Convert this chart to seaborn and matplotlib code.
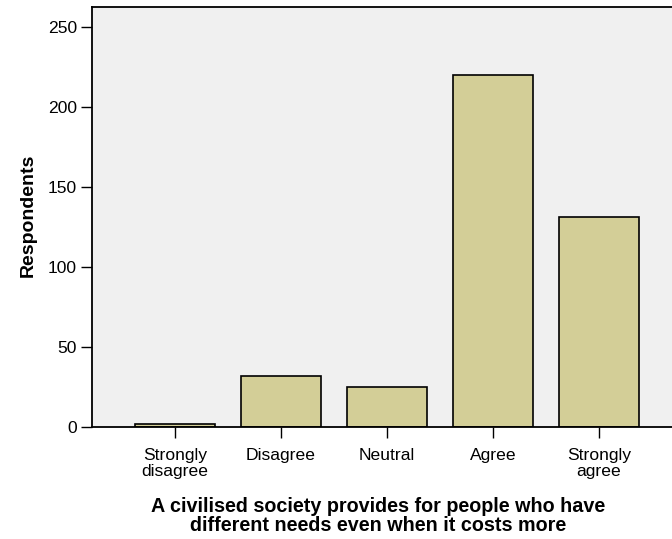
import matplotlib
matplotlib.use("Agg")
import matplotlib.pyplot as plt
import seaborn as sns
import pandas as pd

categories = ["Strongly\ndisagree", "Disagree", "Neutral", "Agree", "Strongly\nagree"]
respondents = [2, 32, 25, 220, 131]
y_ticks = [0, 50, 100, 150, 200, 250]
x_title = "A civilised society provides for people who have\ndifferent needs even when it costs more"
y_title = "Respondents"

sns.set_style("white")
plt.rcParams['font.family'] = ['Liberation Sans', 'DejaVu Sans']
plt.rcParams['text.color'] = 'black'
plt.rcParams['axes.labelcolor'] = 'black'

df = pd.DataFrame({"category": categories, "count": respondents})

fig = plt.figure(figsize=(6.72, 5.39), dpi=100)
ax = fig.add_axes([0.1376, 0.2078, 0.8768, 0.7792])
ax.set_facecolor("#F0F0F0")

sns.barplot(data=df, x="category", y="count", order=categories, color="#D3CE97",
            saturation=1, edgecolor="black", linewidth=1.2, width=0.75, ax=ax)

ax.set_xlim(-0.78, 4.78)
ax.set_ylim(0, 262.3)
ax.set_yticks(y_ticks)
ax.set_yticklabels([str(v) for v in y_ticks])

for s in ["left", "bottom", "top"]:
    ax.spines[s].set_visible(True)
    ax.spines[s].set_color("black")
    ax.spines[s].set_linewidth(1.3)
ax.spines["right"].set_visible(False)

ax.tick_params(axis="both", which="major", direction="out", length=7.8, width=1.0,
               color="black", labelsize=12.6, labelcolor="black", pad=3.5,
               left=True, bottom=True)
ax.tick_params(axis="x", pad=7.5)
for lab in ax.get_xticklabels():
    lab.set_linespacing(1.05)
    lab.set_color("black")

ax.set_xlabel(x_title, fontsize=14.2, fontweight="bold", linespacing=1.0, color="black")
ax.xaxis.set_label_coords(0.4845, -0.166)
ax.set_ylabel(y_title, fontsize=14, fontweight="bold", color="black")
ax.yaxis.set_label_coords(-0.094, 0.505)

fig.savefig("out.png", dpi=100, facecolor="white")
